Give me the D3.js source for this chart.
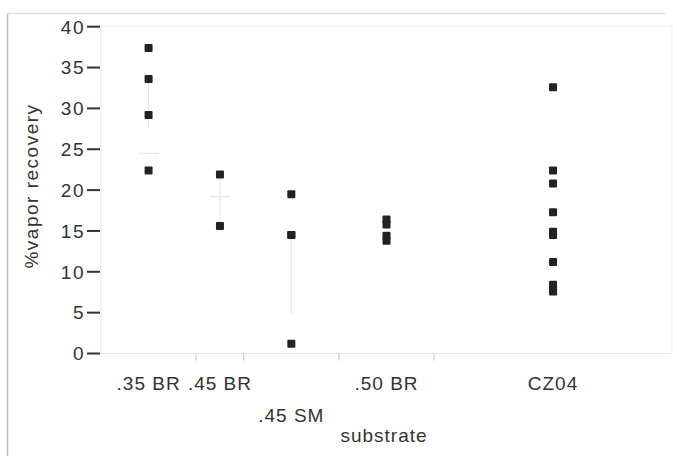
<!DOCTYPE html>
<html><head><meta charset="utf-8">
<script src="https://cdn.jsdelivr.net/npm/d3@7"></script>
<style>body{margin:0;background:#fff}svg{display:block}text{font-family:"Liberation Sans",Arial,sans-serif;fill:#333}</style>
</head><body><svg id="c" width="677" height="456"></svg>
<script>
const categories = [".35 BR", ".45 BR", ".45 SM", ".50 BR", "CZ04"];
const values = [
  [37.4, 33.6, 29.2, 22.4],
  [21.9, 15.6],
  [19.5, 14.5, 14.5, 1.2],
  [16.4, 15.8, 14.4, 13.8],
  [32.6, 22.4, 20.8, 17.3, 14.9, 14.5, 11.2, 8.4, 7.6, 7.9]
];
const labelRow = [0, 0, 1, 0, 0];
const yTicks = [0, 5, 10, 15, 20, 25, 30, 35, 40];
// faint summary marks
const rangeLow = [27.7, 15.6, 4.9, null, null];
const rangeHigh = [33.6, 21.9, 14.5, null, null];
const midMark = [24.5, 19.2, null, null, null];

const svg = d3.select("#c");
const L = 101, R = 672, T = 26, B = 353.5;
const y = d3.scaleLinear().domain([0, 40]).range([B, T + 0.7]);
const counts = values.map(v => v.length);
const total = d3.sum(counts);
const cum = d3.cumsum([0].concat(counts));
const x = d3.scaleLinear().domain([0, total]).range([L, R]);
const center = i => x((cum[i] + cum[i + 1]) / 2);

// outer frame
svg.append("line").attr("x1", 7.5).attr("x2", 7.5).attr("y1", 13).attr("y2", 456).attr("stroke", "#bbb").attr("stroke-width", 1.5);
svg.append("line").attr("x1", 7).attr("x2", 665).attr("y1", 13.5).attr("y2", 13.5).attr("stroke", "#ddd").attr("stroke-width", 1.5);
// plot frame
svg.append("line").attr("x1", L).attr("x2", R).attr("y1", T).attr("y2", T).attr("stroke", "#eee");
svg.append("line").attr("x1", R).attr("x2", R).attr("y1", T).attr("y2", B).attr("stroke", "#eee");
svg.append("line").attr("x1", L).attr("x2", L).attr("y1", T).attr("y2", B).attr("stroke", "#e6e6e6");
svg.append("line").attr("x1", L).attr("x2", R).attr("y1", B).attr("y2", B).attr("stroke", "#e6e6e6");

// y axis ticks + labels
const ya = svg.append("g");
yTicks.forEach(t => {
  ya.append("line").attr("x1", 87).attr("x2", 100).attr("y1", y(t)).attr("y2", y(t)).attr("stroke", "#333").attr("stroke-width", 2);
  ya.append("text").attr("x", 85).attr("y", y(t)).attr("dy", "0.36em").attr("text-anchor", "end")
    .attr("font-size", 19).attr("letter-spacing", 1.5).text(t);
});
svg.append("text").attr("transform", `translate(38,${186}) rotate(-90)`).attr("text-anchor", "middle")
  .attr("font-size", 19).attr("letter-spacing", 1.5).text("%vapor recovery");

// x boundary ticks
cum.slice(1, -1).forEach(c => {
  svg.append("line").attr("x1", x(c)).attr("x2", x(c)).attr("y1", B).attr("y2", B + 7).attr("stroke", "#ccc").attr("stroke-width", 1.2);
});
// x labels
categories.forEach((c, i) => {
  svg.append("text").attr("x", center(i)).attr("y", 390 + labelRow[i] * 32).attr("text-anchor", "middle")
    .attr("font-size", 19).attr("letter-spacing", 1).text(c);
});
svg.append("text").attr("x", 384).attr("y", 442).attr("text-anchor", "middle")
  .attr("font-size", 19).attr("letter-spacing", 1).text("substrate");

// faint summary marks
categories.forEach((c, i) => {
  const cx = center(i);
  if (rangeLow[i] != null) {
    svg.append("line").attr("x1", cx).attr("x2", cx).attr("y1", y(rangeHigh[i])).attr("y2", y(rangeLow[i])).attr("stroke", "#e6e6e6").attr("stroke-width", 1.2);
  }
  if (midMark[i] != null) {
    svg.append("line").attr("x1", cx - 10).attr("x2", cx + 10).attr("y1", y(midMark[i])).attr("y2", y(midMark[i])).attr("stroke", "#e6e6e6").attr("stroke-width", 1.2);
  }
});

// points
const pts = [];
values.forEach((vs, i) => vs.forEach(v => pts.push({ i, v })));
svg.append("g").selectAll("rect").data(pts).join("rect")
  .attr("x", d => center(d.i) - 4).attr("y", d => y(d.v) - 4)
  .attr("width", 8).attr("height", 8).attr("rx", 1).attr("fill", "#222");
</script></body></html>
